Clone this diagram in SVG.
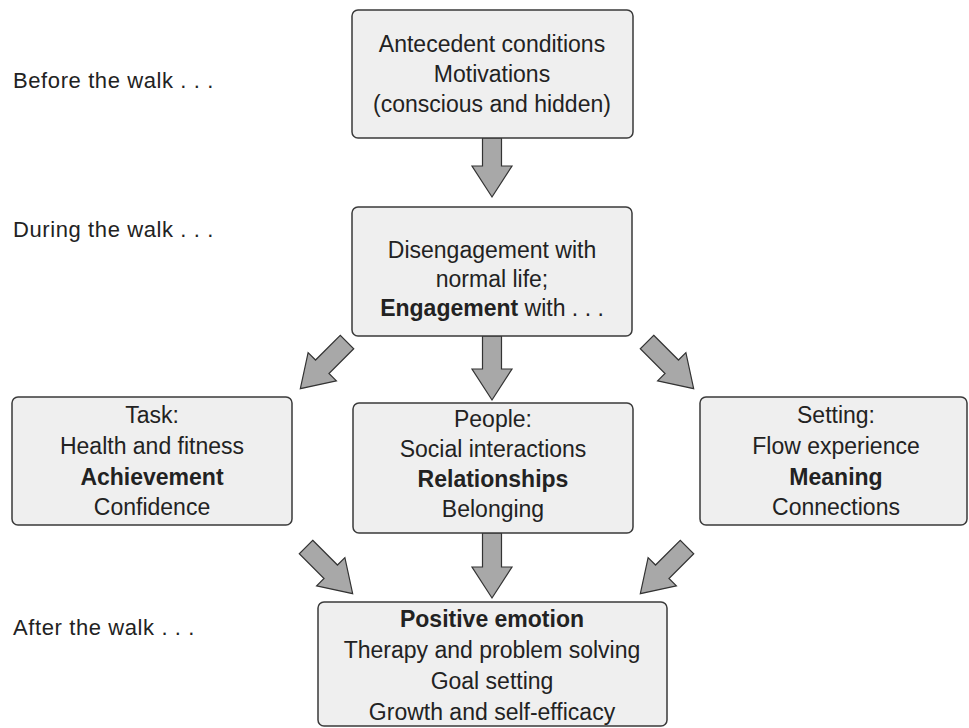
<svg xmlns="http://www.w3.org/2000/svg" width="969" height="728" viewBox="0 0 969 728">
<style>
.box{fill:#efefef;stroke:#3a3a3a;stroke-width:1.5}
.t{font-family:"Liberation Sans",Arial,sans-serif;font-size:23px;fill:#222;text-anchor:middle}
.b{font-weight:bold}
.lab{font-family:"Liberation Sans",Arial,sans-serif;font-size:22px;letter-spacing:0.6px;fill:#222}
.arr{fill:#a8a8a8;stroke:#333;stroke-width:1.2;stroke-linejoin:miter}
</style>
<rect width="969" height="728" fill="#fff"/>
<g id="labels">
<text class="lab" x="13" y="88">Before the walk . . .</text>
<text class="lab" x="13" y="237">During the walk . . .</text>
<text class="lab" x="13" y="635">After the walk . . .</text>
</g>
<g id="connectors">
<polygon class="arr" transform="translate(492,138) rotate(90)" points="0,-9.5 28,-9.5 28,-20 59,0 28,20 28,9.5 0,9.5"/>
<polygon class="arr" transform="translate(492,336) rotate(90)" points="0,-9.5 33,-9.5 33,-20 64,0 33,20 33,9.5 0,9.5"/>
<polygon class="arr" transform="translate(347,342) rotate(135)" points="0,-9.5 35,-9.5 35,-20 66,0 35,20 35,9.5 0,9.5"/>
<polygon class="arr" transform="translate(647,342) rotate(45)" points="0,-9.5 35,-9.5 35,-20 66,0 35,20 35,9.5 0,9.5"/>
<polygon class="arr" transform="translate(306,547) rotate(45)" points="0,-9.5 35,-9.5 35,-20 66,0 35,20 35,9.5 0,9.5"/>
<polygon class="arr" transform="translate(492,533) rotate(90)" points="0,-9.5 34,-9.5 34,-20 65,0 34,20 34,9.5 0,9.5"/>
<polygon class="arr" transform="translate(687,547) rotate(135)" points="0,-9.5 35,-9.5 35,-20 66,0 35,20 35,9.5 0,9.5"/>
</g>
<g id="antecedent">
<rect class="box" x="352" y="10" width="281" height="128" rx="6"/>
<text class="t" x="492" y="52">Antecedent conditions</text>
<text class="t" x="492" y="82">Motivations</text>
<text class="t" x="492" y="112">(conscious and hidden)</text>
</g>
<g id="engagement">
<rect class="box" x="352" y="207" width="280" height="129" rx="6"/>
<text class="t" x="492" y="258">Disengagement with</text>
<text class="t" x="492" y="287">normal life;</text>
<text class="t" x="492" y="316"><tspan class="b">Engagement</tspan> with . . .</text>
</g>
<g id="task">
<rect class="box" x="12" y="397" width="280" height="128" rx="6"/>
<text class="t" x="152" y="423">Task:</text>
<text class="t" x="152" y="454">Health and fitness</text>
<text class="t b" x="152" y="485">Achievement</text>
<text class="t" x="152" y="515">Confidence</text>
</g>
<g id="people">
<rect class="box" x="353" y="403" width="280" height="130" rx="6"/>
<text class="t" x="493" y="427">People:</text>
<text class="t" x="493" y="457">Social interactions</text>
<text class="t b" x="493" y="487">Relationships</text>
<text class="t" x="493" y="517">Belonging</text>
</g>
<g id="setting">
<rect class="box" x="700" y="397" width="267" height="128" rx="6"/>
<text class="t" x="836" y="423">Setting:</text>
<text class="t" x="836" y="454">Flow experience</text>
<text class="t b" x="836" y="485">Meaning</text>
<text class="t" x="836" y="515">Connections</text>
</g>
<g id="after">
<rect class="box" x="318" y="602" width="349" height="124" rx="6"/>
<text class="t b" x="492" y="627">Positive emotion</text>
<text class="t" x="492" y="658">Therapy and problem solving</text>
<text class="t" x="492" y="689">Goal setting</text>
<text class="t" x="492" y="720">Growth and self-efficacy</text>
</g>
</svg>
